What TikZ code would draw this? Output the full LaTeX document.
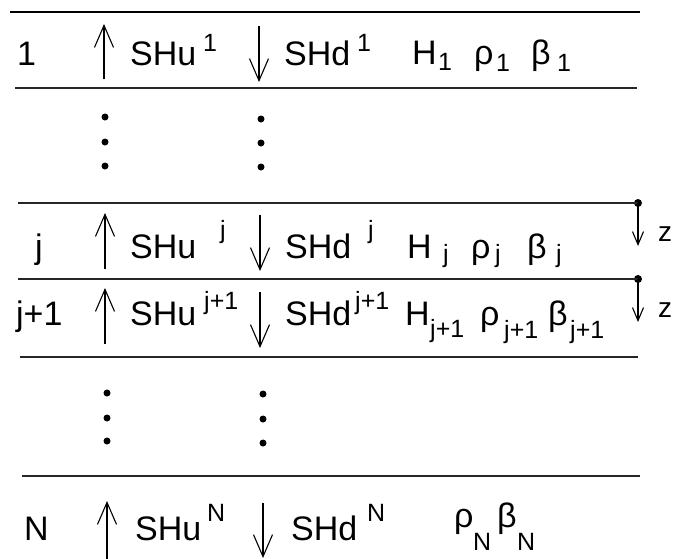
\documentclass[tikz,border=0pt]{standalone}
\usepackage{fontspec}
\setmainfont{Liberation Sans}
\usetikzlibrary{arrows.meta}
\tikzset{
  lbl/.style={anchor=base west, inner sep=0pt, font=\fontsize{34}{34}\selectfont},
  idx/.style={anchor=base west, inner sep=0pt, font=\fontsize{25}{25}\selectfont},
  zlbl/.style={anchor=base west, inner sep=0pt, font=\fontsize{28}{28}\selectfont},
  layer/.style={line width=1.6pt, color=black!85},
  toplayer/.style={line width=2.6pt},
  flux/.style={line width=1.1pt, -{Straight Barb[length=22pt,width=19pt,line width=1.1pt]}},
  zarrow/.style={line width=1.1pt, -{Straight Barb[length=13pt,width=11pt,line width=1.1pt]}},
  dotm/.style={circle, fill, inner sep=0pt, minimum size=7pt},
  zdot/.style={circle, fill, inner sep=0pt, minimum size=8pt},
}
\begin{document}
\begin{tikzpicture}[x=1pt,y=-1pt]
\useasboundingbox (0,0) rectangle (680,558);
% layer boundaries
\coordinate (L1a) at (10,12);  \coordinate (L1b) at (640,12);
\coordinate (L2a) at (15,88);  \coordinate (L2b) at (637,88);
\coordinate (L3a) at (18,203); \coordinate (L4a) at (18,279);
\coordinate (L5a) at (20,357); \coordinate (L5b) at (638,357);
\coordinate (L6a) at (22,476); \coordinate (L6b) at (640,476);
\node[zdot] (zd1) at (638,203) {};
\node[zdot] (zd2) at (638,279) {};
\draw[toplayer] (L1a) -- (L1b);
\draw[layer] (L2a) -- (L2b);
\draw[layer] (L3a) -- (zd1.center);
\draw[layer] (L4a) -- (zd2.center);
\draw[layer] (L5a) -- (L5b);
\draw[layer] (L6a) -- (L6b);
% z arrows
\coordinate (za1) at (638,246);
\coordinate (za2) at (638,322);
\draw[zarrow] (zd1.center) -- (za1);
\draw[zarrow] (zd2.center) -- (za2);
\node[zlbl] (z1) at (658,241) {z};
\node[zlbl] (z2) at (658,317) {z};

% ---------- row 1 ----------
\node[lbl] (n1) at (17,65) {1};
\coordinate (u1s) at (104,79); \coordinate (u1e) at (104,24);
\draw[flux] (u1s) -- (u1e);
\node[lbl] (shu1) at (130,65) {SHu};
\node[idx] (shu1i) at (203,51) {1};
\coordinate (d1s) at (259,26); \coordinate (d1e) at (259,82);
\draw[flux] (d1s) -- (d1e);
\node[lbl] (shd1) at (284,65) {SHd};
\node[idx] (shd1i) at (357,51) {1};
\node[lbl] (h1) at (412,64) {H};
\node[idx] (h1i) at (438,70) {1};
\node[lbl] (r1) at (474,64) {ρ};
\node[idx] (r1i) at (496,71) {1};
\node[lbl] (b1) at (531,64) {β};
\node[idx] (b1i) at (557,71) {1};

% ---------- dots 1 ----------
\node[dotm] (da1) at (105,117) {};
\node[dotm] (da2) at (105,142) {};
\node[dotm] (da3) at (105,166) {};
\node[dotm] (db1) at (261,119) {};
\node[dotm] (db2) at (261,143) {};
\node[dotm] (db3) at (261,167) {};

% ---------- row j ----------
\node[lbl] (nj) at (35,258) {j};
\coordinate (ujs) at (105,269); \coordinate (uje) at (105,213);
\draw[flux] (ujs) -- (uje);
\node[lbl] (shuj) at (130,258) {SHu};
\node[idx] (shuji) at (220,238) {j};
\coordinate (djs) at (260,215); \coordinate (dje) at (260,271);
\draw[flux] (djs) -- (dje);
\node[lbl] (shdj) at (285,258) {SHd};
\node[idx] (shdji) at (368,238) {j};
\node[lbl] (hj) at (407,258) {H};
\node[idx] (hji) at (443,262) {j};
\node[lbl] (rj) at (471,258) {ρ};
\node[idx] (rji) at (495,262) {j};
\node[lbl] (bj) at (527,258) {β};
\node[idx] (bji) at (556,262) {j};

% ---------- row j+1 ----------
\node[lbl] (nj1) at (16,325) {j+1};
\coordinate (uj1s) at (105,344); \coordinate (uj1e) at (105,288);
\draw[flux] (uj1s) -- (uj1e);
\node[lbl] (shuj1) at (130,325) {SHu};
\node[idx] (shuj1i) at (204,309) {j+1};
\coordinate (dj1s) at (260,292); \coordinate (dj1e) at (260,348);
\draw[flux] (dj1s) -- (dj1e);
\node[lbl] (shdj1) at (285,325) {SHd};
\node[idx] (shdj1i) at (355,309) {j+1};
\node[lbl] (hj1) at (405,325) {H};
\node[idx] (hj1i) at (430,337) {j+1};
\node[lbl] (rj1) at (480,325) {ρ};
\node[idx] (rj1i) at (504,338) {j+1};
\node[lbl] (bj1) at (548,325) {β};
\node[idx] (bj1i) at (570,338) {j+1};

% ---------- dots 2 ----------
\node[dotm] (dc1) at (107,393) {};
\node[dotm] (dc2) at (107,418) {};
\node[dotm] (dc3) at (107,441) {};
\node[dotm] (dd1) at (263,394) {};
\node[dotm] (dd2) at (263,419) {};
\node[dotm] (dd3) at (263,443) {};

% ---------- row N ----------
\node[lbl] (nN) at (24,540) {N};
\coordinate (uNs) at (107,560); \coordinate (uNe) at (107,501);
\draw[flux] (uNs) -- (uNe);
\node[lbl] (shuN) at (135,540) {SHu};
\node[idx] (shuNi) at (207,521) {N};
\coordinate (dNs) at (263,503); \coordinate (dNe) at (263,558);
\draw[flux] (dNs) -- (dNe);
\node[lbl] (shdN) at (291,540) {SHd};
\node[idx] (shdNi) at (367,521) {N};
\node[lbl] (rN) at (454,527) {ρ};
\node[idx] (rNi) at (473,550) {N};
\node[lbl] (bN) at (497,527) {β};
\node[idx] (bNi) at (517,550) {N};
\end{tikzpicture}
\end{document}
